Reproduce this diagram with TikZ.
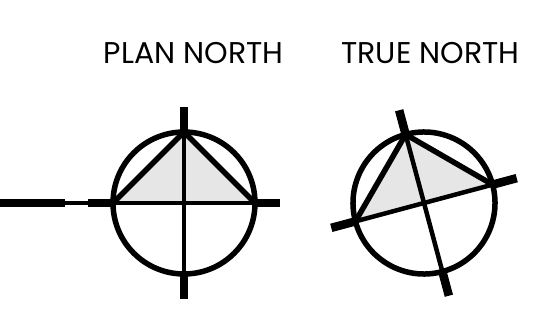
\documentclass[tikz,border=0pt]{standalone}
\usepackage{fontspec}
\setmainfont{Poppins}
\usepackage{xcolor}
\usetikzlibrary{positioning}
\definecolor{planc}{RGB}{230,230,230}
\tikzset{
  ring/.style={line width=5.5pt},
  axis/.style={line width=4.5pt},
  stub/.style={line width=8.5pt},
  title/.style={font=\fontsize{30}{34}\selectfont,inner sep=0pt}
}
\begin{document}
\begin{tikzpicture}[x=1pt,y=1pt]
\useasboundingbox (0,0) rectangle (554,324);
\node[title] (plan) at (193.5,271) {PLAN NORTH};
\node[title] (true) at (430.5,271) {TRUE NORTH};
% plan north at 0, true north turned by 15 degrees
\foreach \cx/\ang in {184/0,424/15} {
  \begin{scope}[shift={(\cx,121)},rotate=\ang]
    \fill[planc] (-71,0) -- (0,71) -- (71,0) -- cycle;
    \draw[ring] (0,0) circle (71);
    \draw[ring,line join=round] (-71,0) -- (0,71) -- (71,0);
    \draw[axis] (-71,0) -- (71,0);
    \draw[axis] (0,-71) -- (0,71);
    \draw[stub] (71,0) -- (96,0);
    \draw[stub] (-71,0) -- (-96,0);
    \draw[stub] (0,71) -- (0,96);
    \draw[stub] (0,-71) -- (0,-96);
  \end{scope}
}
% tail left of the plan mark
\draw[stub] (0,121) -- (65,121);
\draw[axis] (65,121) -- (88,121);
\end{tikzpicture}
\end{document}
